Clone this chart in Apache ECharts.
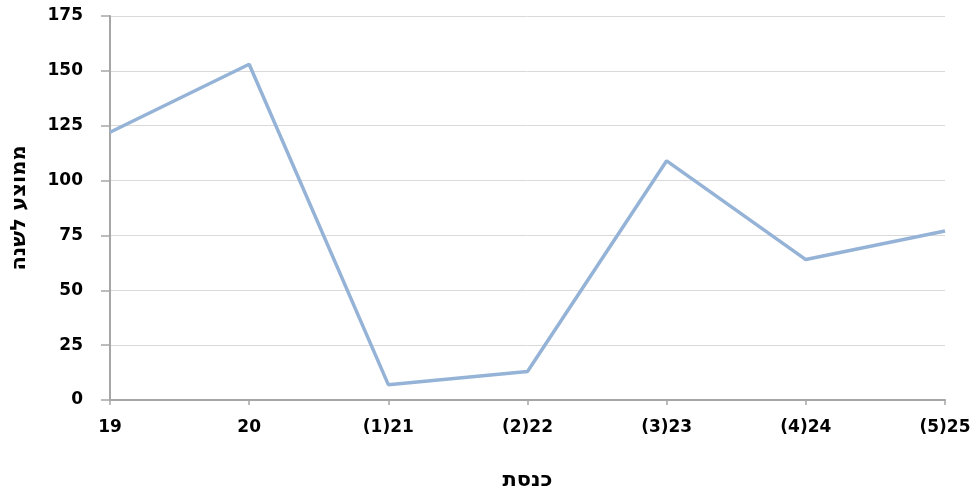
<!DOCTYPE html>
<html><head><meta charset="utf-8">
<script src="https://cdn.jsdelivr.net/npm/echarts@6/dist/echarts.min.js"></script>
<style>html,body{margin:0;padding:0;background:#fff}#c{width:977px;height:489px}</style>
</head><body><div id="c"></div>
<script>
const categories = ['19','20','(1)21','(2)22','(3)23','(4)24','(5)25'];
const values = [122, 153, 7, 13, 109, 64, 77];
const yTitle = 'ממוצע לשנה';
const xTitle = 'כנסת';
const chart = echarts.init(document.getElementById('c'));
const font = '"DejaVu Sans", sans-serif';
chart.setOption({
  animation: false,
  grid: {left: 110, right: 32, top: 16, bottom: 89, containLabel: false, outerBoundsMode: 'none'},
  xAxis: {
    type: 'category', data: categories, boundaryGap: false,
    name: xTitle, nameLocation: 'middle', nameGap: 70,
    nameTextStyle: {fontFamily: font, fontSize: 21, fontWeight: 'bold', color: '#000'},
    axisLine: {lineStyle: {color: '#a6a6a6', width: 2}},
    axisTick: {show: true, length: 5, alignWithLabel: true, lineStyle: {color: '#a6a6a6', width: 1.5}},
    axisLabel: {fontFamily: font, fontSize: 17, fontWeight: 'bold', color: '#000', margin: 19, interval: 0}
  },
  yAxis: {
    type: 'value', min: 0, max: 175, interval: 25,
    name: yTitle, nameLocation: 'middle', nameGap: 80, nameRotate: 90,
    nameTextStyle: {fontFamily: font, fontSize: 21, fontWeight: 'bold', color: '#000'},
    axisLine: {show: true, lineStyle: {color: '#a6a6a6', width: 2}},
    axisTick: {show: true, length: 9, lineStyle: {color: '#a6a6a6', width: 1.5}},
    axisLabel: {fontFamily: font, fontSize: 17, fontWeight: 'bold', color: '#000', margin: 27},
    splitLine: {show: true, lineStyle: {color: '#d9d9d9', width: 1}}
  },
  series: [{
    type: 'line', data: values, symbol: 'none',
    lineStyle: {color: '#95b3d7', width: 3.5}
  }]
});
</script></body></html>
